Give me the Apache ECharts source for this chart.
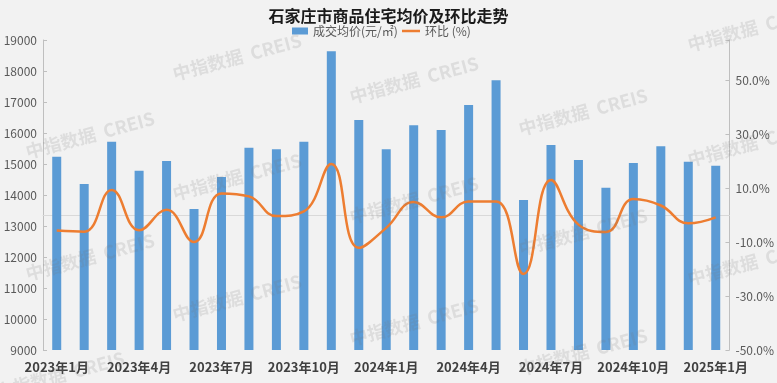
<!DOCTYPE html>
<html><head><meta charset="utf-8">
<script src="https://cdn.jsdelivr.net/npm/echarts@6/dist/echarts.min.js"></script>
<style>html,body{margin:0;padding:0;background:#f2f2f2}#c{width:777px;height:383px}</style>
</head><body><div id="c"></div>
<script>
const months = ['2023年1月','2023年2月','2023年3月','2023年4月','2023年5月','2023年6月','2023年7月','2023年8月','2023年9月','2023年10月','2023年11月','2023年12月',
'2024年1月','2024年2月','2024年3月','2024年4月','2024年5月','2024年6月','2024年7月','2024年8月','2024年9月','2024年10月','2024年11月','2024年12月','2025年1月'];
const price = [15230,14355,15720,14785,15097,13548,14580,15527,15473,15720,18635,16419,15473,16248,16097,16903,17700,13839,15613,15129,14237,15032,15571,15075,14945];
const mom = [-5.7,-6.1,9.4,-5.6,2.0,-9.9,8.1,7.0,-0.3,1.4,19.0,-12.1,-4.7,4.9,-0.8,5.1,5.1,-21.8,13.1,-3.5,-6.2,6.0,3.6,-3.0,-0.8];
const titleText = '石家庄市商品住宅均价及环比走势';
const seriesNames = ['成交均价(元/㎡)','环比 (%)'];

const wmPos = [[90,135],[90,257],[60,375],[237,57],[237,177],[237,298],[414,80],[414,200],[414,322],[583,112],[583,232],[583,352],[752,28],[752,143],[752,262]];
const wm = wmPos.map(p => ({
  type:'text', x:p[0], y:p[1], rotation: 15*Math.PI/180, z:100,
  style:{text:'中指数据  CREIS', fill:'rgba(120,120,120,0.17)', font:'bold 18px "Noto Sans CJK SC", sans-serif', textAlign:'center', textVerticalAlign:'middle'}
}));

const legendText = {fontFamily:'"Noto Sans CJK SC"', fontSize:12, color:'#595959'};
const chart = echarts.init(document.getElementById('c'));
chart.setOption({
  backgroundColor:'#f2f2f2',
  animation:false,
  title:{text:titleText, left:'center', top:3, textStyle:{fontFamily:'"Noto Sans CJK SC"', fontSize:16, fontWeight:'bold', color:'#1a1a1a'}},
  legend:[
    {top:25, left:292, padding:0, itemWidth:16, itemHeight:7, textStyle:legendText, data:[{name:seriesNames[0], icon:'rect'}]},
    {top:25, left:402, padding:0, itemWidth:18, itemHeight:2.5, textStyle:legendText, data:[{name:seriesNames[1], icon:'rect'}]}
  ],
  grid:{left:43, right:46, top:40, bottom:33},
  xAxis:{type:'category', data:months, boundaryGap:true,
    axisLine:{show:true, lineStyle:{color:'#d9d9d9'}}, axisTick:{show:false},
    axisLabel:{interval:2, color:'#404040', fontSize:13, fontWeight:'bold', fontFamily:'"Noto Sans CJK SC"', margin:11}},
  yAxis:[
    {type:'value', min:9000, max:19000, interval:1000, splitLine:{show:false},
     axisLine:{show:true, lineStyle:{color:'#bfbfbf'}}, axisTick:{show:true, inside:true, length:4, lineStyle:{color:'#bfbfbf'}},
     axisLabel:{color:'#595959', fontSize:12, margin:6, fontFamily:'"Noto Sans CJK SC"', formatter:v=>String(v)}},
    {type:'value', min:-50, max:65, interval:20, splitLine:{show:false},
     axisLine:{show:true, lineStyle:{color:'#bfbfbf'}}, axisTick:{show:true, inside:true, length:4, lineStyle:{color:'#bfbfbf'}},
     axisLabel:{color:'#595959', fontSize:12, margin:6, fontFamily:'"Noto Sans CJK SC"', formatter:v=> v>60 ? '' : v.toFixed(1)+'%'}}
  ],
  graphic: wm,
  series:[
    {name:seriesNames[0], type:'bar', data:price, barWidth:9, itemStyle:{color:'#5b9bd5'}},
    {name:seriesNames[1], type:'line', yAxisIndex:1, data:mom, smooth:0.45, showSymbol:false, symbol:'none',
     lineStyle:{color:'#ed7d31', width:2.5}, itemStyle:{color:'#ed7d31'}}
  ]
});
</script></body></html>
